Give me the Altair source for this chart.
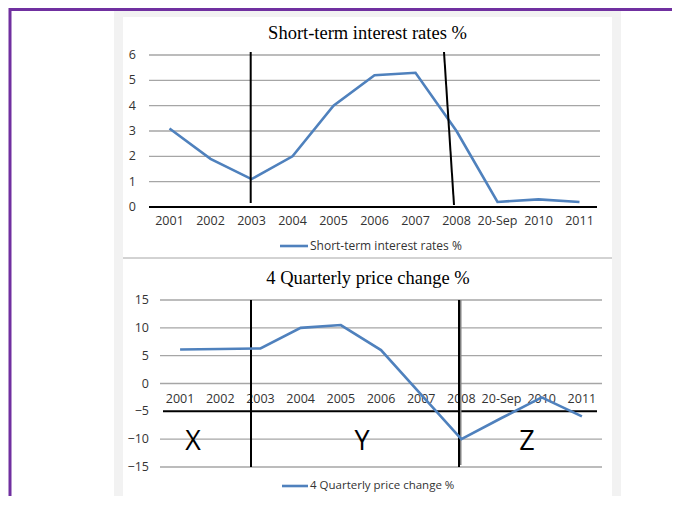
import altair as alt
import pandas as pd

categories = ["2001", "2002", "2003", "2004", "2005", "2006", "2007", "2008", "20-Sep", "2010", "2011"]
interest_rates = [3.1, 1.9, 1.1, 2.0, 4.0, 5.2, 5.3, 3.0, 0.2, 0.3, 0.2]
price_change = [6.1, 6.2, 6.3, 10.0, 10.5, 6.0, -2.0, -10.0, -6.2, -2.5, -5.9]
ticks1 = [0, 1, 2, 3, 4, 5, 6]
ticks2 = [-15, -10, -5, 0, 5, 10, 15]
title1 = "Short-term interest rates %"
title2 = "4 Quarterly price change %"
zone_labels = ["X", "Y", "Z"]

BLUE = "#4f81bd"
GRID = "#a6a6a6"
LAB = "#333333"
SANS = "Open Sans"
FS = 12.5

W, H = 664, 488

x1s = alt.Scale(type="point", domain=categories, range=[141, 592], padding=0.5)
y1s = alt.Scale(domain=[0, 6], range=[199, 47], nice=False, zero=False)
x2s = alt.Scale(type="point", domain=categories, range=[152, 594], padding=0.5)
y2s = alt.Scale(domain=[-15, 15], range=[459, 292], nice=False, zero=False)

d1 = pd.DataFrame({"cat": categories, "v": interest_rates})
d2 = pd.DataFrame({"cat": categories, "v": price_change})
t1 = pd.DataFrame({"t": ticks1})
t2 = pd.DataFrame({"t": ticks2})

base = alt.Chart(pd.DataFrame({"a": [0]}))

def rect(x, x2, y, y2, color):
    return base.mark_rect(color=color).encode(
        x=alt.value(x), x2=alt.value(x2), y=alt.value(y), y2=alt.value(y2))

def seg(x, x2, y, y2, color, w):
    return base.mark_rule(color=color, strokeWidth=w).encode(
        x=alt.value(x), x2=alt.value(x2), y=alt.value(y), y2=alt.value(y2))

def label(txt, x, y, size, font=SANS, color=LAB, align="center"):
    return base.mark_text(font=font, fontSize=size, color=color, align=align, baseline="middle").encode(
        x=alt.value(x), y=alt.value(y), text=alt.value(txt))

layers = [
    rect(106, 613, 2, 498, "#f2f2f2"),
    rect(115, 604, 9, 495, "#ffffff"),
    seg(115, 604, 250, 250, GRID, 1),
    seg(2, 2, 0, H, "#7030a0", 3),
    seg(1, W, 1.5, 1.5, "#7030a0", 3),
]

# ---- chart 1 ----
grid1 = alt.Chart(t1[t1.t > 0]).mark_rule(color=GRID, strokeWidth=1.3).encode(
    x=alt.value(141), x2=alt.value(592), y=alt.Y("t:Q", scale=y1s, axis=None))
zero1 = alt.Chart(t1[t1.t == 0]).mark_rule(color="black", strokeWidth=2).encode(
    x=alt.value(141), x2=alt.value(589), y=alt.Y("t:Q", scale=y1s, axis=None))
ylab1 = alt.Chart(t1).mark_text(align="right", baseline="middle", font=SANS, fontSize=FS, color=LAB).encode(
    x=alt.value(128), y=alt.Y("t:Q", scale=y1s, axis=None), text="t:Q")
xlab1 = alt.Chart(d1).mark_text(align="center", baseline="middle", font=SANS, fontSize=FS, color=LAB).encode(
    x=alt.X("cat:N", scale=x1s, axis=None, sort=categories), y=alt.value(213), text="cat:N")
line1 = alt.Chart(d1).mark_line(color=BLUE, strokeWidth=2.6).encode(
    x=alt.X("cat:N", scale=x1s, axis=None, sort=categories),
    y=alt.Y("v:Q", scale=y1s, axis=None))
vl1a = seg(242.7, 242.7, 44, 195, "black", 2)
vl1b = seg(436, 446, 44, 197, "black", 2)
tt1 = label(title1, 359.5, 25, 18.5, font="Liberation Serif", color="black")
lg1l = seg(272, 300, 238, 238, BLUE, 2.6)
lg1t = label(title1, 302, 238, 12, align="left")

# ---- chart 2 ----
grid2 = alt.Chart(t2[t2.t != -5]).mark_rule(color=GRID, strokeWidth=1.3).encode(
    x=alt.value(152), x2=alt.value(594), y=alt.Y("t:Q", scale=y2s, axis=None))
axis2 = alt.Chart(t2[t2.t == -5]).mark_rule(color="black", strokeWidth=2).encode(
    x=alt.value(155), x2=alt.value(589), y=alt.Y("t:Q", scale=y2s, axis=None))
ylab2 = alt.Chart(t2).mark_text(align="right", baseline="middle", font=SANS, fontSize=FS, color=LAB).encode(
    x=alt.value(141), y=alt.Y("t:Q", scale=y2s, axis=None), text="t:Q")
xlab2 = alt.Chart(d2).mark_text(align="center", baseline="middle", font=SANS, fontSize=FS, color=LAB).encode(
    x=alt.X("cat:N", scale=x2s, axis=None, sort=categories), y=alt.value(391), text="cat:N")
vl2a = seg(243, 243, 292, 459, "black", 2)
vl2b0 = seg(452.5, 452.5, 292, 457, "#808080", 2)
vl2b = seg(451, 451, 292, 459, "black", 2)
line2 = alt.Chart(d2).mark_line(color=BLUE, strokeWidth=2.6).encode(
    x=alt.X("cat:N", scale=x2s, axis=None, sort=categories),
    y=alt.Y("v:Q", scale=y2s, axis=None))
zx = label(zone_labels[0], 185, 434, 27, color="black")
zy = label(zone_labels[1], 354, 434, 27, color="black")
zz = label(zone_labels[2], 519, 434, 27, color="black")
tt2 = label(title2, 360, 270, 18.5, font="Liberation Serif", color="black")
lg2l = seg(274, 300, 478, 478, BLUE, 2.6)
lg2t = label(title2, 302, 478, 11.5, align="left")

layers += [grid1, zero1, ylab1, xlab1, line1, vl1a, vl1b, tt1, lg1l, lg1t,
           grid2, axis2, ylab2, xlab2, vl2a, vl2b0, vl2b, line2, zx, zy, zz, tt2, lg2l, lg2t]

chart = alt.layer(*layers).resolve_scale(x="independent", y="independent").properties(
    width=W, height=H, autosize=alt.AutoSizeParams(type="none"), padding=0,
    background="white"
).configure_view(stroke=None)

chart.save("out.html", embed_options={"renderer": "svg", "actions": False})
